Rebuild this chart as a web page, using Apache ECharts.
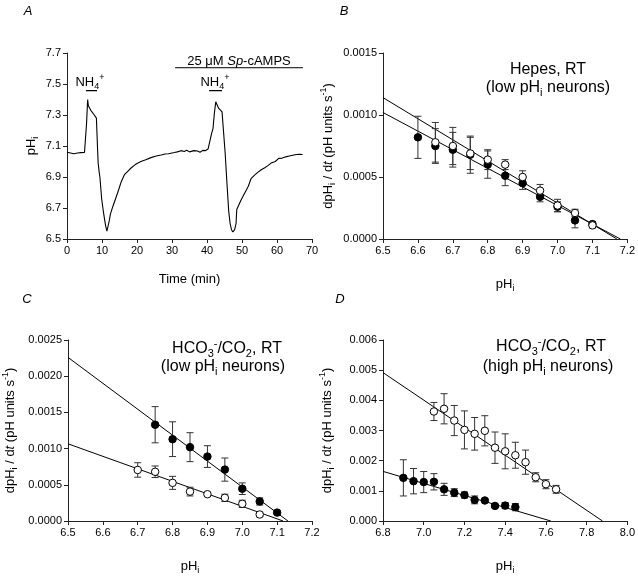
<!DOCTYPE html>
<html>
<head>
<meta charset="utf-8">
<script src="https://cdn.jsdelivr.net/npm/echarts@6/dist/echarts.min.js"></script>
<style>
  html, body { margin: 0; padding: 0; background: #fff; }
  #main { width: 638px; height: 576px; }
</style>
</head>
<body>
<div id="main"></div>
<script>
// A: pHi trace (time in min, pHi)
var timeA = [0, 0.5, 1, 1.5, 2, 2.5, 3, 3.5, 4, 4.5, 5, 5.4, 5.6, 5.9, 6.1, 6.4, 6.8, 7.3, 7.8, 8.4,
  8.7, 8.9, 9.2, 9.4, 9.9, 10.5, 11.0, 11.4, 11.7, 12.1, 12.4, 13.1, 14.5, 15.5, 16.4, 17.5, 18.3,
  19.5, 21.1, 22.5, 24, 25.5, 26.9, 28, 29, 30.7, 31.5, 32.6, 33.5, 34.2, 35, 35.5, 36.3, 37.3, 38,
  38.8, 39.5, 40.3, 40.8, 41.3, 41.7, 42.1, 42.5, 42.8, 43.3, 43.8, 44.3, 44.7, 45.2, 45.7, 46.2,
  46.6, 47.0, 47.4, 47.9, 48.3, 48.5, 49.0, 49.7, 50.4, 51.1, 51.8, 52.6, 53.5, 54.5, 55.4, 56.5,
  57.5, 58.3, 59.5, 60.5, 61.5, 62.5, 63.5, 64.5, 65.5, 66.5, 67.3];
var phA = [7.06, 7.065, 7.055, 7.06, 7.05, 7.06, 7.055, 7.06, 7.057, 7.06, 7.058, 7.062, 7.25, 7.40, 7.36, 7.355, 7.33, 7.32, 7.30, 7.28,
  7.10, 6.99, 6.93, 6.90, 6.76, 6.66, 6.59, 6.55, 6.55, 6.62, 6.66, 6.71, 6.80, 6.87, 6.915, 6.94, 6.958,
  6.98, 7.0, 7.012, 7.025, 7.035, 7.042, 7.048, 7.05, 7.058, 7.062, 7.07, 7.065, 7.072, 7.062, 7.056, 7.07, 7.068, 7.06,
  7.072, 7.07, 7.08, 7.13, 7.18, 7.21, 7.31, 7.385, 7.37, 7.345, 7.34, 7.32, 7.2, 7.05, 6.86, 6.68,
  6.6, 6.56, 6.545, 6.56, 6.6, 6.69, 6.7, 6.75, 6.78, 6.81, 6.84, 6.89, 6.91, 6.93, 6.945, 6.96,
  6.975, 6.99, 7.0, 7.02, 7.022, 7.03, 7.035, 7.04, 7.045, 7.046, 7.045];
// application bars in A: [start, end, pH level]
var nh4BarsA = [[5.4, 8.6, 7.457], [40.6, 44.3, 7.457]];
var spBarA = [30.9, 67.4, 7.605];

// B: Hepes, low pHi neurons
var filledPhB = [6.6, 6.65, 6.7, 6.75, 6.8, 6.85, 6.9, 6.95, 7.0, 7.05, 7.1];
var filledB = [0.00082, 0.00075, 0.00072, 0.00068, 0.00060, 0.00051, 0.00045, 0.00034, 0.00026, 0.00015, 0.00012];
var filledErrB = [0.00017, 0.00014, 0.00014, 0.00015, 0.00011, 0.00008, 0.00005, 0.00004, 0.00004, 0.00006, 0.00002];
var openPhB = [6.65, 6.7, 6.75, 6.8, 6.85, 6.9, 6.95, 7.0, 7.05, 7.1];
var openB = [0.00078, 0.00075, 0.00069, 0.00064, 0.00060, 0.00050, 0.00039, 0.00027, 0.00021, 0.00011];
var openErrB = [0.00016, 0.00015, 0.00013, 0.00008, 0.00004, 0.00005, 0.00005, 0.00005, 0.00003, 0.00002];
var fitOpenB = [[6.5, 0.00114], [7.17, 0]];
var fitFilledB = [[6.5, 0.00102], [7.18, 0]];

// C: HCO3-/CO2, low pHi neurons
var filledPhC = [6.75, 6.8, 6.85, 6.9, 6.95, 7.0, 7.05, 7.1];
var filledC = [0.00133, 0.00113, 0.00102, 0.00089, 0.00071, 0.000446, 0.00027, 0.000116];
var filledErrC = [0.00025, 0.00024, 0.0002, 0.00015, 0.00016, 0.00008, 0.00005, 0.00002];
var openPhC = [6.7, 6.75, 6.8, 6.85, 6.9, 6.95, 7.0, 7.05];
var openC = [0.000705, 0.00068, 0.000527, 0.000406, 0.00037, 0.00032, 0.000237, 0.00009];
var openErrC = [0.0001, 0.00008, 0.00009, 0.00006, 0.00001, 0.00005, 0.00005, 0.00003];
var fitFilledC = [[6.5, 0.00226], [7.131, 0]];
var fitOpenC = [[6.5, 0.001066], [7.117, 0]];

// D: HCO3-/CO2, high pHi neurons
var openPhD = [7.05, 7.1, 7.15, 7.2, 7.25, 7.3, 7.35, 7.4, 7.45, 7.5, 7.55, 7.6, 7.65];
var openD = [0.00363, 0.00372, 0.00333, 0.00302, 0.00289, 0.00299, 0.00243, 0.00231, 0.00218, 0.00195, 0.00145, 0.00122, 0.00105];
var openErrD = [0.0003, 0.0005, 0.0005, 0.00063, 0.00054, 0.0005, 0.00052, 0.00058, 0.00043, 0.0004, 0.00015, 0.00015, 0.00013];
var filledPhD = [6.9, 6.95, 7.0, 7.05, 7.1, 7.15, 7.2, 7.25, 7.3, 7.35, 7.4, 7.45];
var filledD = [0.00143, 0.00132, 0.00129, 0.0013, 0.00105, 0.00094, 0.00086, 0.0007, 0.00068, 0.0005, 0.00051, 0.00046];
var filledErrD = [0.0006, 0.00042, 0.00035, 0.00027, 0.0002, 0.00013, 0.0001, 0.00013, 0.00005, 0.00005, 0.0001, 0.00012];
var fitOpenD = [[6.8, 0.00492], [7.878, 0]];
var fitFilledD = [[6.8, 0.001645], [7.624, 0]];

var FONT = 'Liberation Sans, Arial, sans-serif';

function rich(fs) {
  var small = Math.round(fs * 0.7);
  return {
    b: { fontSize: fs, lineHeight: fs + 5, fontFamily: FONT, color: '#000' },
    it: { fontSize: fs, lineHeight: fs + 5, fontFamily: FONT, fontStyle: 'italic', color: '#000' },
    sub: { fontSize: small, lineHeight: fs * 0.6, verticalAlign: 'bottom', fontFamily: FONT, color: '#000' },
    sup: { fontSize: small, lineHeight: fs * 0.6, verticalAlign: 'top', fontFamily: FONT, color: '#000' }
  };
}

function pairs(xs, ys) {
  var out = [];
  for (var i = 0; i < xs.length; i++) out.push([xs[i], ys[i]]);
  return out;
}
function triples(xs, ys, es) {
  var out = [];
  for (var i = 0; i < xs.length; i++) out.push([xs[i], ys[i], es[i]]);
  return out;
}

// vertical error bar with caps
function errRender(params, api) {
  var x = api.value(0), y = api.value(1), e = api.value(2);
  var hi = api.coord([x, y + e]);
  var lo = api.coord([x, y - e]);
  var w = 3.5;
  var st = { stroke: '#333', lineWidth: 1 };
  return {
    type: 'group',
    children: [
      { type: 'line', shape: { x1: hi[0], y1: hi[1], x2: lo[0], y2: lo[1] }, style: st },
      { type: 'line', shape: { x1: hi[0] - w, y1: hi[1], x2: hi[0] + w, y2: hi[1] }, style: st },
      { type: 'line', shape: { x1: lo[0] - w, y1: lo[1], x2: lo[0] + w, y2: lo[1] }, style: st }
    ]
  };
}

function makeX(grid, min, max, step, dec, name, gap) {
  return {
    gridIndex: grid, type: 'value', min: min, max: max, interval: step,
    axisLine: { show: true, onZero: false, lineStyle: { color: '#222', width: 1 } },
    axisTick: { show: true, inside: false, length: 4, lineStyle: { color: '#222' } },
    splitLine: { show: false },
    axisLabel: { color: '#000', fontSize: 11, fontFamily: FONT, margin: 6,
      formatter: function (v) { return v.toFixed(dec); } },
    name: name, nameLocation: 'middle', nameGap: gap,
    nameTextStyle: { rich: rich(13) }
  };
}
function makeY(grid, min, max, step, dec, name, gap) {
  return {
    gridIndex: grid, type: 'value', min: min, max: max, interval: step,
    axisLine: { show: true, onZero: false, lineStyle: { color: '#222', width: 1 } },
    axisTick: { show: true, inside: false, length: 4, lineStyle: { color: '#222' } },
    splitLine: { show: false },
    axisLabel: { color: '#000', fontSize: 11, fontFamily: FONT, margin: 6,
      formatter: function (v) { return v.toFixed(dec); } },
    name: name, nameLocation: 'middle', nameGap: gap, nameRotate: 90,
    nameTextStyle: { rich: rich(13) }
  };
}

var rateName = '{b|dpH}{sub|i}{b| / d}{it|t}{b| (pH units s}{sup|-1}{b|)}';
var phName = '{b|pH}{sub|i}';

function scatter(name, xi, data, open) {
  return {
    name: name, type: 'scatter', xAxisIndex: xi, yAxisIndex: xi, data: data,
    symbol: 'circle', symbolSize: 7.5, z: 5,
    itemStyle: open ? { color: '#fff', borderColor: '#000', borderWidth: 1, opacity: 1 }
                    : { color: '#000', borderColor: '#000', borderWidth: 1, opacity: 1 }
  };
}
function errs(name, xi, data) {
  return { name: name, type: 'custom', xAxisIndex: xi, yAxisIndex: xi, data: data,
    renderItem: errRender, encode: { x: 0, y: 1 }, z: 3 };
}
function fit(name, xi, data, w) {
  return { name: name, type: 'line', xAxisIndex: xi, yAxisIndex: xi, data: data,
    symbol: 'none', lineStyle: { color: '#000', width: w || 1 }, z: 2, silent: true };
}

var myChart = echarts.init(document.getElementById('main'), null, { renderer: 'canvas' });

var option = {
  animation: false,
  backgroundColor: '#fff',
  textStyle: { fontFamily: FONT },
  grid: [
    { left: 67, top: 53, width: 245, height: 186 },
    { left: 383, top: 53, width: 245, height: 186 },
    { left: 66, top: 340, width: 246, height: 186 },
    { left: 383, top: 340, width: 245, height: 186 }
  ],
  xAxis: [
    makeX(0, 0, 70, 10, 0, '{b|Time (min)}', 31),
    makeX(1, 6.5, 7.2, 0.1, 1, phName, 36),
    makeX(2, 6.5, 7.2, 0.1, 1, phName, 36),
    makeX(3, 6.8, 8.0, 0.2, 1, phName, 36)
  ],
  yAxis: [
    makeY(0, 6.5, 7.7, 0.2, 1, phName, 27),
    makeY(1, 0, 0.0015, 0.0005, 4, rateName, 46),
    makeY(2, 0, 0.0025, 0.0005, 4, rateName, 49),
    makeY(3, 0, 0.006, 0.001, 3, rateName, 47)
  ],
  series: [
    { name: 'pHi', type: 'line', xAxisIndex: 0, yAxisIndex: 0, data: pairs(timeA, phA),
      symbol: 'none', lineStyle: { color: '#000', width: 1.1 } },
    fit('nh4a', 0, [[nh4BarsA[0][0], nh4BarsA[0][2]], [nh4BarsA[0][1], nh4BarsA[0][2]]], 1.3),
    fit('nh4b', 0, [[nh4BarsA[1][0], nh4BarsA[1][2]], [nh4BarsA[1][1], nh4BarsA[1][2]]], 1.3),
    fit('sp', 0, [[spBarA[0], spBarA[2]], [spBarA[1], spBarA[2]]], 1),

    fit('fitOpenB', 1, fitOpenB), fit('fitFilledB', 1, fitFilledB),
    errs('errFilledB', 1, triples(filledPhB, filledB, filledErrB)),
    errs('errOpenB', 1, triples(openPhB, openB, openErrB)),
    scatter('filledB', 1, pairs(filledPhB, filledB), false),
    scatter('openB', 1, pairs(openPhB, openB), true),

    fit('fitFilledC', 2, fitFilledC), fit('fitOpenC', 2, fitOpenC),
    errs('errFilledC', 2, triples(filledPhC, filledC, filledErrC)),
    errs('errOpenC', 2, triples(openPhC, openC, openErrC)),
    scatter('filledC', 2, pairs(filledPhC, filledC), false),
    scatter('openC', 2, pairs(openPhC, openC), true),

    fit('fitOpenD', 3, fitOpenD), fit('fitFilledD', 3, fitFilledD),
    errs('errOpenD', 3, triples(openPhD, openD, openErrD)),
    errs('errFilledD', 3, triples(filledPhD, filledD, filledErrD)),
    scatter('openD', 3, pairs(openPhD, openD), true),
    scatter('filledD', 3, pairs(filledPhD, filledD), false)
  ],
  graphic: [
    { type: 'text', x: 28, y: 11, style: { text: 'A', font: 'italic 13px ' + FONT, fill: '#000', align: 'center', verticalAlign: 'middle' } },
    { type: 'text', x: 344, y: 11, style: { text: 'B', font: 'italic 13px ' + FONT, fill: '#000', align: 'center', verticalAlign: 'middle' } },
    { type: 'text', x: 27, y: 299, style: { text: 'C', font: 'italic 13px ' + FONT, fill: '#000', align: 'center', verticalAlign: 'middle' } },
    { type: 'text', x: 340, y: 299, style: { text: 'D', font: 'italic 13px ' + FONT, fill: '#000', align: 'center', verticalAlign: 'middle' } },

    { type: 'text', x: 90, y: 82, style: { text: '{b|NH}{sub|4}{sup|+}', rich: rich(13), align: 'center', verticalAlign: 'middle' } },
    { type: 'text', x: 215, y: 82, style: { text: '{b|NH}{sub|4}{sup|+}', rich: rich(13), align: 'center', verticalAlign: 'middle' } },
    { type: 'text', x: 239, y: 61, style: { text: '{b|25 \u03bcM }{it|Sp}{b|-cAMPS}', rich: rich(13), align: 'center', verticalAlign: 'middle' } },

    { type: 'text', x: 548, y: 70, style: { text: '{b|Hepes, RT}', rich: rich(16), align: 'center', verticalAlign: 'middle' } },
    { type: 'text', x: 548, y: 88, style: { text: '{b|(low pH}{sub|i}{b| neurons)}', rich: rich(16), align: 'center', verticalAlign: 'middle' } },

    { type: 'text', x: 227, y: 349, style: { text: '{b|HCO}{sub|3}{sup|-}{b|/CO}{sub|2}{b|, RT}', rich: rich(16), align: 'center', verticalAlign: 'middle' } },
    { type: 'text', x: 223, y: 367, style: { text: '{b|(low pH}{sub|i}{b| neurons)}', rich: rich(16), align: 'center', verticalAlign: 'middle' } },

    { type: 'text', x: 551, y: 347, style: { text: '{b|HCO}{sub|3}{sup|-}{b|/CO}{sub|2}{b|, RT}', rich: rich(16), align: 'center', verticalAlign: 'middle' } },
    { type: 'text', x: 548, y: 367, style: { text: '{b|(high pH}{sub|i}{b| neurons)}', rich: rich(16), align: 'center', verticalAlign: 'middle' } }
  ]
};

myChart.setOption(option);
</script>
</body>
</html>
